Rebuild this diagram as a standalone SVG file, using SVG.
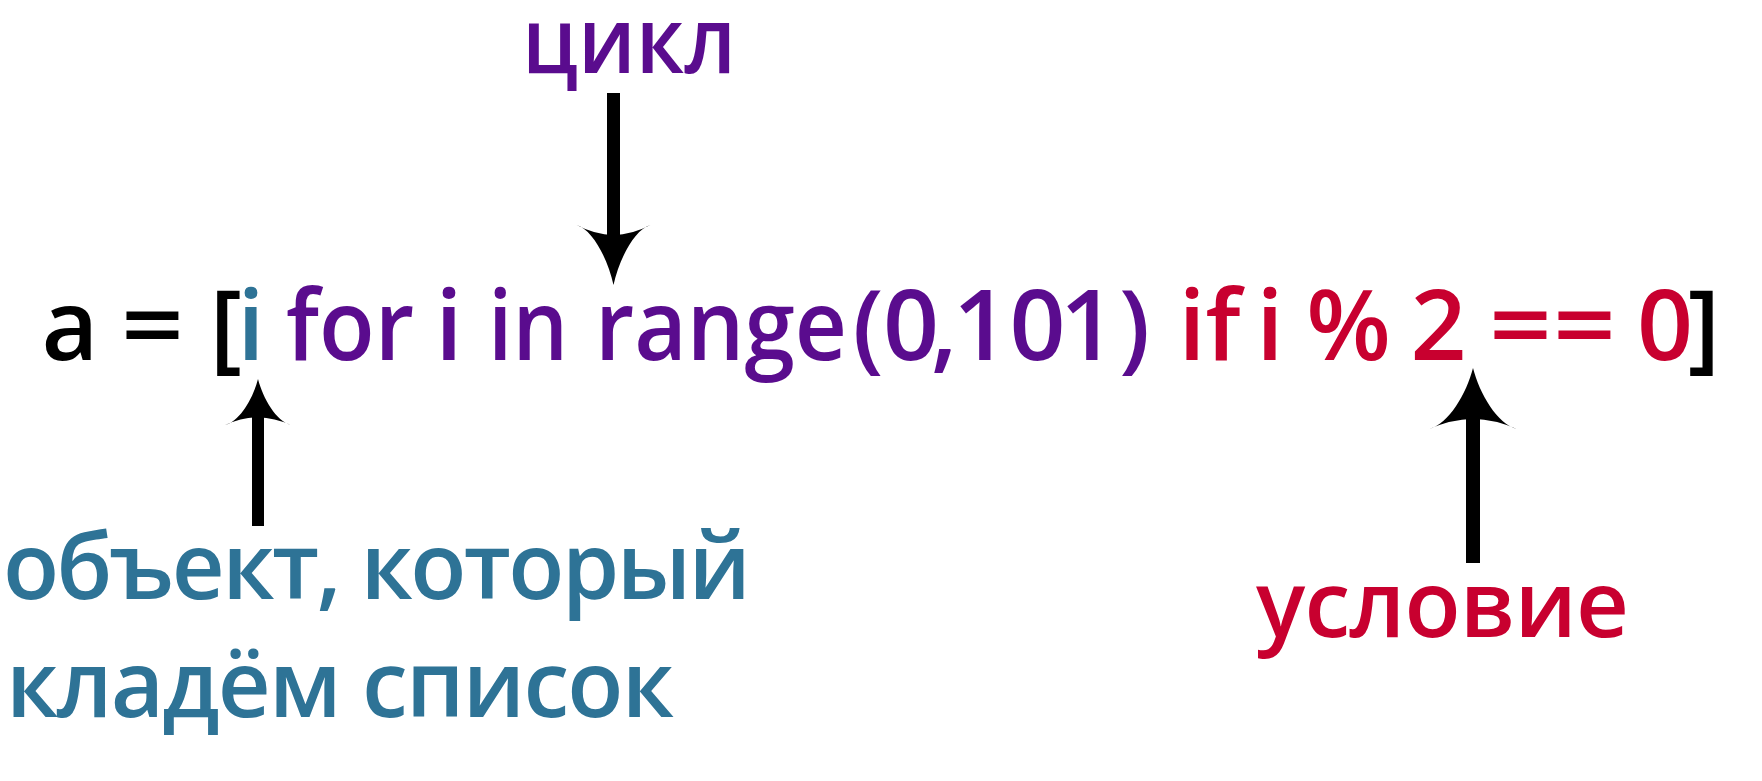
<svg xmlns="http://www.w3.org/2000/svg" xmlns:xlink="http://www.w3.org/1999/xlink" width="1762" height="781" viewBox="0 0 1762 781">
<defs>
<style>
text{font-family:"Open Sans","Noto Sans","DejaVu Sans",sans-serif;font-weight:600;}
.code{font-size:98px;text-anchor:middle;}
.lbl{font-size:92px;}
.k{fill:#000000;}
.b{fill:#2e7396;}
.p{fill:#5a0c8e;}
.r{fill:#c8002f;}
.shaft{stroke:#000;stroke-linecap:butt;fill:none;}
</style>
<path id="head" d="M0,0 C-0.15,0.42 -0.55,0.92 -1,1 Q-0.5,0.84 0,0.83 Q0.5,0.84 1,1 C0.55,0.92 0.15,0.42 0,0 Z" fill="#000"/>
</defs>
<rect width="1762" height="781" fill="#ffffff"/>

<g id="code-line">
<text class="code k" x="70" y="360">a</text>
<text class="code k" x="152.5" y="360" textLength="63" lengthAdjust="spacingAndGlyphs">=</text>
<text class="code k" x="226" y="360">[</text>
<text class="code b" x="251" y="360">i</text>
<text class="code p" x="350" y="360" textLength="128" lengthAdjust="spacingAndGlyphs">for</text>
<text class="code p" x="449" y="360">i</text>
<text class="code p" x="528" y="360" textLength="80" lengthAdjust="spacingAndGlyphs">in</text>
<text class="code p" x="721" y="360" textLength="252" lengthAdjust="spacingAndGlyphs">range</text>
<text class="code p" x="868" y="360">(</text>
<text class="code p" x="911" y="360">0</text>
<text class="code p" x="944" y="360">,</text>
<text class="code p" x="981" y="360">1</text>
<text class="code p" x="1037.5" y="360">0</text>
<text class="code p" x="1088" y="360">1</text>
<text class="code p" x="1134.5" y="360">)</text>
<text class="code r" x="1209.5" y="360" textLength="62" lengthAdjust="spacingAndGlyphs">if</text>
<text class="code r" x="1270" y="360">i</text>
<text class="code r" x="1348.5" y="360">%</text>
<text class="code r" x="1438.5" y="360">2</text>
<text class="code r" x="1520.5" y="360" textLength="63" lengthAdjust="spacingAndGlyphs">=</text>
<text class="code r" x="1584.5" y="360" textLength="63" lengthAdjust="spacingAndGlyphs">=</text>
<text class="code r" x="1665" y="360">0</text>
<text class="code k" x="1704" y="360">]</text>
</g>

<g id="label-loop">
<text class="lbl p" x="522" y="73" textLength="214" lengthAdjust="spacingAndGlyphs">цикл</text>
</g>

<g id="label-object">
<text class="lbl b" x="3" y="599" textLength="748" lengthAdjust="spacing">объект, который</text>
<text class="lbl b" x="6" y="717" textLength="668" lengthAdjust="spacing">кладём список</text>
</g>

<g id="label-condition">
<text class="lbl r" x="1256" y="637" textLength="373" lengthAdjust="spacing">условие</text>
</g>

<g id="connectors">
<g id="arrow-loop">
<line class="shaft" x1="613.5" y1="93" x2="613.5" y2="240" stroke-width="13"/>
<use xlink:href="#head" href="#head" transform="translate(613.5,285) scale(37,-60)"/>
</g>
<g id="arrow-object">
<line class="shaft" x1="258" y1="410" x2="258" y2="526" stroke-width="12"/>
<use xlink:href="#head" href="#head" transform="translate(258,379) scale(33,46)"/>
</g>
<g id="arrow-condition">
<line class="shaft" x1="1473" y1="410" x2="1473" y2="563" stroke-width="14"/>
<use xlink:href="#head" href="#head" transform="translate(1473,368) scale(44,61)"/>
</g>
</g>
</svg>
